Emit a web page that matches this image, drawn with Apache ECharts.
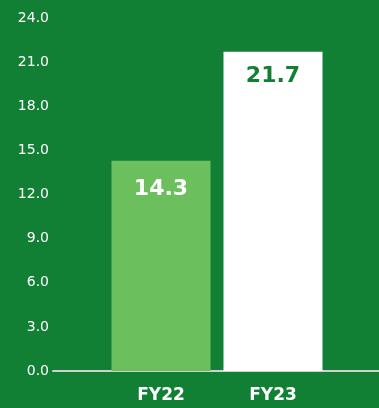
<!DOCTYPE html>
<html>
<head>
<meta charset="utf-8">
<style>
html,body{margin:0;padding:0;background:#128034;}
#c{width:379px;height:408px;}
</style>
<script src="https://cdn.jsdelivr.net/npm/echarts@6/dist/echarts.min.js"></script>
</head>
<body>
<div id="c"></div>
<script>
const categories = ['FY22', 'FY23'];
const values = [14.3, 21.7];
const barColors = ['#6bbf5c', '#ffffff'];
const labelColors = ['#ffffff', '#128034'];
const yMin = 0, yMax = 24, yStep = 3;

const chart = echarts.init(document.getElementById('c'), null, {renderer: 'canvas'});
const font = '"DejaVu Sans", sans-serif';
const labelDist = [18, 13];
chart.setOption({
  backgroundColor: '#128034',
  animation: false,
  grid: [
    {left: 53, right: 0, top: 18, bottom: 37},
    {left: 105, right: 50, top: 18, bottom: 37}
  ],
  xAxis: [
    {gridIndex: 0, type: 'category', data: [''],
     axisLine: {show: true, lineStyle: {color: '#d0d0d0', width: 2}},
     axisTick: {show: false}, axisLabel: {show: false}, splitLine: {show: false}},
    {gridIndex: 1, type: 'category', data: categories,
     axisLine: {show: false}, axisTick: {show: false},
     axisLabel: {color: '#ffffff', fontSize: 17, fontWeight: 'bold', fontFamily: font, margin: 16}}
  ],
  yAxis: [
    {gridIndex: 0, type: 'value', min: yMin, max: yMax, interval: yStep,
     axisLine: {show: false}, axisTick: {show: false}, splitLine: {show: false},
     axisLabel: {color: '#ffffff', fontSize: 14, fontFamily: font, margin: 4,
       formatter: v => v.toFixed(1)}},
    {gridIndex: 1, type: 'value', min: yMin, max: yMax, interval: yStep, show: false}
  ],
  series: [{
    type: 'bar', xAxisIndex: 1, yAxisIndex: 1,
    barWidth: 99,
    data: values.map((v, i) => ({
      value: v,
      itemStyle: {color: barColors[i]},
      label: {color: labelColors[i], distance: labelDist[i]}
    })),
    label: {show: true, position: 'insideTop',
      fontSize: 22, fontWeight: 'bold', fontFamily: font,
      formatter: p => p.value.toFixed(1)}
  }]
});
</script>
</body>
</html>
